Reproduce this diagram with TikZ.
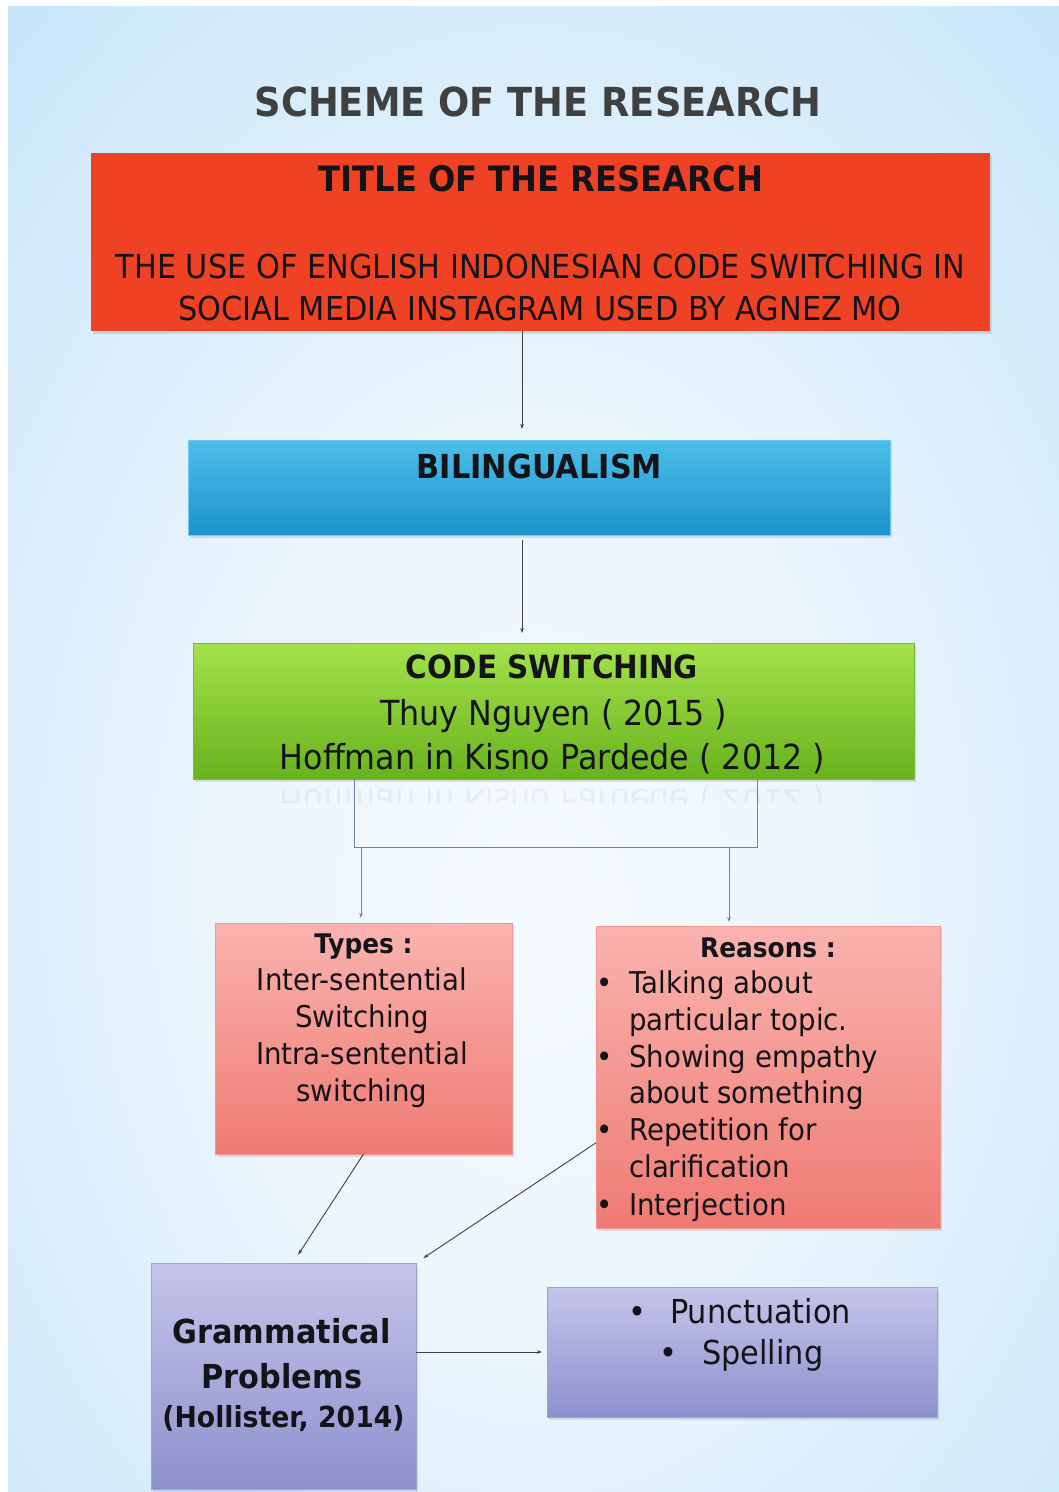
\documentclass[tikz,border=0pt]{standalone}
\usepackage{fontspec}
\setmainfont{DejaVu Sans}[FakeStretch=0.92]
\usetikzlibrary{arrows.meta,shadows,calc}
\definecolor{bgc0}{RGB}{246,251,254}
\definecolor{bgc1}{RGB}{234,245,253}
\definecolor{bgc2}{RGB}{206,232,250}
\definecolor{bgc3}{RGB}{174,216,246}
\definecolor{bgc4}{RGB}{148,201,243}
\definecolor{titlegray}{RGB}{64,64,64}
\definecolor{redbox}{RGB}{239,65,35}
\definecolor{bluetop}{RGB}{76,190,233}
\definecolor{bluemid}{RGB}{60,175,225}
\definecolor{bluebot}{RGB}{27,148,203}
\definecolor{greentop}{RGB}{164,226,74}
\definecolor{greenbot}{RGB}{104,178,30}
\definecolor{pinktop}{RGB}{250,179,175}
\definecolor{pinkbot}{RGB}{239,123,115}
\definecolor{lavtop}{RGB}{197,197,234}
\definecolor{lavbot}{RGB}{141,144,206}
\definecolor{conn}{RGB}{110,125,195}
\definecolor{ink}{RGB}{20,20,24}
\pgfdeclareradialshading{bgshade}{\pgfpoint{0bp}{-6bp}}{%
  color(0bp)=(bgc0); color(16bp)=(bgc1); color(34bp)=(bgc2);
  color(50bp)=(bgc3); color(72bp)=(bgc4)}
\newcommand\fsz[1]{\fontsize{#1}{#1}\selectfont}
\begin{document}
\begin{tikzpicture}[x=1pt,y=-1pt,
  box/.style={rectangle, inner sep=0pt, outer sep=0pt, line width=0.6pt,
    drop shadow={shadow xshift=1.5pt, shadow yshift=-2.5pt, opacity=0.22}},
  txt/.style={anchor=base, inner sep=0pt, text=ink},
  ltxt/.style={anchor=base west, inner sep=0pt, text=ink},
  arr/.style={-{Stealth[length=5pt,width=3.5pt]}, line width=0.9pt, draw=black!75},
  blu/.style={line width=1pt, draw=conn},
  bluarr/.style={blu, -{Stealth[length=5pt,width=3.5pt]}},
]
\useasboundingbox (0,0) rectangle (1059,1492);
\fill[white] (0,0) rectangle (1059,1492);
\shade[shading=bgshade] (8,6) rectangle (1059,1492);

% title
\node[txt, text=titlegray, font=\fsz{40}\bfseries] (title) at (538,116) {SCHEME OF THE RESEARCH};

% boxes
\node[box, fill=redbox, minimum width=899pt, minimum height=178pt] (red) at (540.5,242) {};
\node[box, draw=bluetop!80!white, top color=bluetop, middle color=bluemid, bottom color=bluebot,
  minimum width=702pt, minimum height=95pt] (blue) at (539,487.5) {};
\node[box, draw=greenbot!90!white, top color=greentop, bottom color=greenbot,
  minimum width=721pt, minimum height=136pt] (green) at (553.5,711) {};
\node[box, draw=pinkbot!80!white, top color=pinktop, bottom color=pinkbot,
  minimum width=297pt, minimum height=231pt] (types) at (363.5,1038.5) {};
\node[box, draw=pinkbot!80!white, top color=pinktop, bottom color=pinkbot,
  minimum width=344pt, minimum height=302pt] (reasons) at (768,1077) {};
\node[box, draw=lavbot!85!white, top color=lavtop, bottom color=lavbot,
  minimum width=265pt, minimum height=226pt] (gram) at (283.5,1376) {};
\node[box, draw=lavbot!85!white, top color=lavtop, bottom color=lavbot,
  minimum width=390pt, minimum height=130pt] (punct) at (742,1352) {};

% red box text
\node[txt, font=\fsz{35}\bfseries] (t1) at (541,191) {TITLE OF THE RESEARCH};
\node[txt, font=\fsz{33}] (t2) at (540.5,278) {THE USE OF ENGLISH INDONESIAN CODE SWITCHING IN};
\node[txt, font=\fsz{33}] (t3) at (540,320) {SOCIAL MEDIA INSTAGRAM USED BY AGNEZ MO};

% blue box text
\node[txt, font=\fsz{33}\bfseries] (b1) at (539.5,478) {BILINGUALISM};

% green box text
\node[txt, font=\fsz{32}\bfseries] (g1) at (552,678) {CODE SWITCHING};
\node[txt, font=\fsz{34.5}] (g2) at (553.5,725) {Thuy Nguyen ( 2015 )};
\node[txt, font=\fsz{34.5}] (g3) at (552.5,769) {Hoffman in Kisno Pardede ( 2012 )};

% faint reflection under green box
\begin{scope}
  \clip (193,779.5) rectangle (914,802);
  \begin{scope}[shift={(552.5,789)}]
    \node[txt, opacity=0.05, yscale=-1, transform shape, font=\fsz{34.5}] (g3r) at (0,0) {Hoffman in Kisno Pardede ( 2012 )};
  \end{scope}
\end{scope}

% types text
\node[txt, font=\fsz{27}\bfseries] (ty0) at (363.5,953) {Types :};
\node[txt, font=\fsz{30}] (ty1) at (362,990) {Inter-sentential};
\node[txt, font=\fsz{30}] (ty2) at (362,1027) {Switching};
\node[txt, font=\fsz{30}] (ty3) at (362,1064) {Intra-sentential};
\node[txt, font=\fsz{30}] (ty4) at (362,1101) {switching};

% reasons text
\node[txt, font=\fsz{27}\bfseries] (r0) at (768,957) {Reasons :};
\foreach \yy/\nm in {993/rb1,1067/rb2,1140/rb3,1215/rb4}
  \node[txt, font=\fsz{30}] (\nm) at (605,\yy) {•};
\node[ltxt, font=\fsz{30}] (r1) at (629,993) {Talking about};
\node[ltxt, font=\fsz{30}] (r2) at (629,1030) {particular topic.};
\node[ltxt, font=\fsz{30}] (r3) at (629,1067) {Showing empathy};
\node[ltxt, font=\fsz{30}] (r4) at (629,1103) {about something};
\node[ltxt, font=\fsz{30}] (r5) at (629,1140) {Repetition for};
\node[ltxt, font=\fsz{30}] (r6) at (629,1177) {clarification};
\node[ltxt, font=\fsz{30}] (r7) at (629,1215) {Interjection};

% grammatical text
\node[txt, font=\fsz{33}\bfseries] (gr1) at (281.5,1343) {Grammatical};
\node[txt, font=\fsz{33}\bfseries] (gr2) at (282,1388) {Problems};
\node[txt, font=\fsz{29}\bfseries] (gr3) at (283.5,1427) {(Hollister, 2014)};

% punctuation text
\node[txt, font=\fsz{33}] (pb1) at (637,1323) {•};
\node[ltxt, font=\fsz{33}] (p1) at (670,1323) {Punctuation};
\node[txt, font=\fsz{33}] (pb2) at (668,1364) {•};
\node[ltxt, font=\fsz{33}] (p2) at (702,1364) {Spelling};

% connectors
\coordinate (xa) at (522,0);
\draw[arr, shorten >=11pt] (red.south -| xa) -- (blue.north -| xa);
\draw[arr, shorten <=5pt, shorten >=10pt] (blue.south -| xa) -- (green.north -| xa);

\coordinate (bl) at (354,847);
\coordinate (br) at (757,847);
\draw[blu] (green.south -| bl) -- (bl) -- (br) -- (green.south -| br);
\coordinate (dl) at (361,847);
\coordinate (dr) at (729,847);
\draw[bluarr, shorten >=5pt] (dl) -- (types.north -| dl);
\draw[bluarr, shorten >=4pt] (dr) -- (reasons.north -| dr);

\coordinate (gt1) at ($(gram.north west)!0.535!(gram.north east)$);
\coordinate (rw) at ($(reasons.north west)!0.718!(reasons.south west)$);
\draw[arr, shorten >=10pt] (types.south) -- (gt1);
\draw[arr, shorten >=9pt] (rw) -- (gram.north east);
\draw[arr, shorten >=5pt] (gram.east |- punct.west) -- (punct.west);
\end{tikzpicture}
\end{document}
